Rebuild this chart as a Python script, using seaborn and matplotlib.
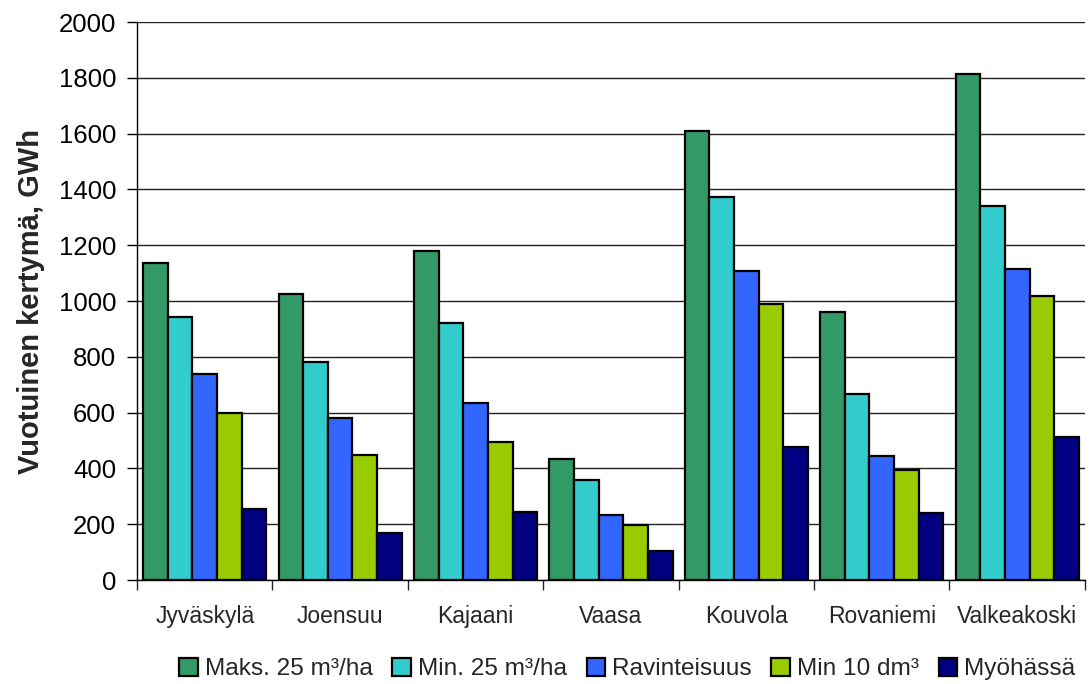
import matplotlib
matplotlib.use("Agg")
import matplotlib.pyplot as plt
import seaborn as sns
import pandas as pd
from matplotlib.patches import Patch

cities = ["Jyväskylä", "Joensuu", "Kajaani", "Vaasa", "Kouvola", "Rovaniemi", "Valkeakoski"]
series = ["Maks. 25 m³/ha", "Min. 25 m³/ha", "Ravinteisuus", "Min 10 dm³", "Myöhässä"]
maks25 = [1136, 1024, 1178, 434, 1608, 961, 1815]
min25 = [941, 781, 922, 359, 1373, 668, 1342]
ravinteisuus = [738, 580, 636, 233, 1108, 445, 1115]
min10 = [597, 447, 495, 196, 988, 396, 1018]
myohassa = [256, 167, 243, 105, 478, 240, 513]
colors = ["#339966", "#33CCCC", "#3366FF", "#99CC00", "#000080"]

rows = []
for name, vals in zip(series, [maks25, min25, ravinteisuus, min10, myohassa]):
    for city, v in zip(cities, vals):
        rows.append({"Kaupunki": city, "Sarja": name, "GWh": v})
df = pd.DataFrame(rows)

sns.set_style("white")
plt.rcParams["font.family"] = ["Liberation Sans", "DejaVu Sans"]

fig = plt.figure(figsize=(10.92, 6.84), dpi=100)
ax = fig.add_axes([0.1255, 0.152, 0.868, 0.8158])

sns.barplot(data=df, x="Kaupunki", y="GWh", hue="Sarja", order=cities,
            hue_order=series, palette=colors, width=0.91, dodge=True,
            edgecolor="black", linewidth=1.6, saturation=1, errorbar=None,
            legend=False, ax=ax, zorder=3)

ax.set_ylim(0, 2000)
ax.set_xlim(-0.5, len(cities) - 0.5)
ax.set_yticks(range(0, 2001, 200))
ax.yaxis.grid(True, color="#222222", linewidth=1.0, zorder=0)
ax.set_axisbelow(True)
for side in ["top", "right"]:
    ax.spines[side].set_visible(False)
for side in ["left", "bottom"]:
    ax.spines[side].set_color("black")
    ax.spines[side].set_linewidth(1.0)

ax.tick_params(axis="y", which="major", length=7, width=1, direction="out",
               labelsize=18.5, left=True, pad=8, colors="black")
ax.tick_params(axis="x", which="major", length=0, labelsize=16.5, pad=18)
ax.set_xticks([i - 0.5 for i in range(len(cities) + 1)], minor=True)
ax.tick_params(axis="x", which="minor", length=7, width=1, direction="out", bottom=True)

ax.set_xlabel("")
ax.set_ylabel("Vuotuinen kertymä, GWh", fontsize=21, fontweight="bold", labelpad=10)

handles = [Patch(facecolor=c, edgecolor="black", linewidth=1.6) for c in colors]
fig.legend(handles, series, loc="center", bbox_to_anchor=(0.5745, 0.022), ncol=5,
           frameon=False, fontsize=17.6, handlelength=0.75, handleheight=0.75,
           handletextpad=0.3, columnspacing=0.8, borderaxespad=0)

fig.savefig("out.png", dpi=100)
